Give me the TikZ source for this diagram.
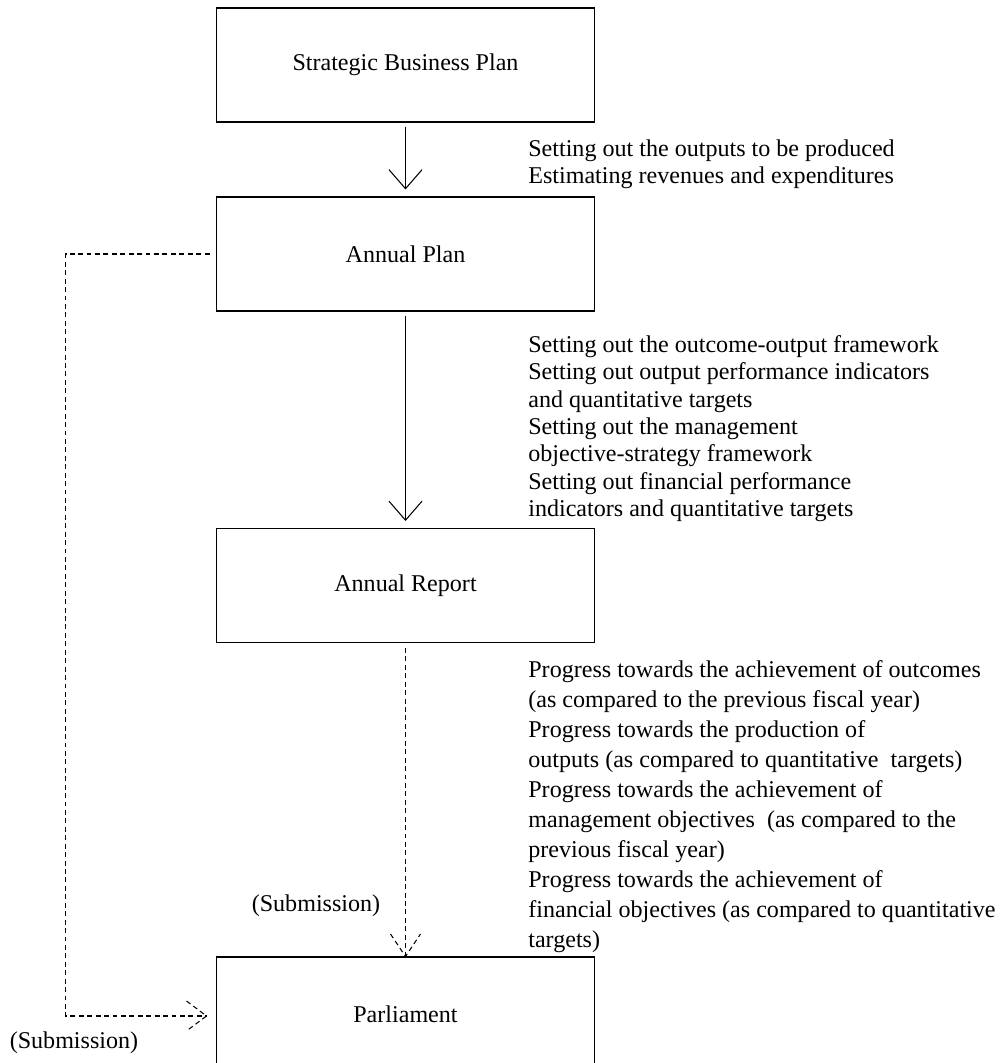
\documentclass[tikz,border=0pt]{standalone}
\usepackage{fontspec}
\setmainfont{Liberation Serif}
\usepackage{tikz}
\usetikzlibrary{arrows.meta}

\tikzset{
  planbox/.style = {rectangle,
      draw = black,
      line width = 0.6pt,
      minimum width = 7.58cm,
      minimum height = 2.28cm,
      font = \fontsize{13.7}{16}\selectfont},
  notes/.style = {align = left,
      anchor = north west,
      inner sep = 0pt,
      font = \fontsize{13.7}{15.6}\selectfont},
  flow/.style = {-{Straight Barb[length=3.8mm,width=6.6mm]},
      line width = 0.6pt,
      shorten < = 0.08cm,
      shorten > = 0.14cm},
  subm/.style = {dashed,
      dash pattern = on 2.8pt off 2pt,
      line width = 0.6pt}
}

\begin{document}
\begin{tikzpicture}[x=0.02cm, y=-0.02cm]
  \useasboundingbox (0,0) rectangle (1000,1063);

  % the four boxes
  \node[planbox] (sbp) at (405.5,65) {Strategic Business Plan};
  \node[planbox] (plan) at (405.5,254) {Annual Plan};
  \node[planbox] (report) at (405.5,585.5) {Annual Report};
  \node[planbox] (parl) at (405.5,1014) {Parliament};

  % what each step sets out
  \node[notes] (outputnote) at (528,139) {Setting out the outputs to be produced\\
    Estimating revenues and expenditures};
  \node[notes] (plannote) at (528,335) {Setting out the outcome-output framework\\
    Setting out output performance indicators\\
    and quantitative targets\\
    Setting out the management\\
    objective-strategy framework\\
    Setting out financial performance\\
    indicators and quantitative targets};
  \node[notes, font = \fontsize{13.7}{17.07}\selectfont] (reportnote) at (528,660)
    {Progress towards the achievement of outcomes\\
    (as compared to the previous fiscal year)\\
    Progress towards the production of\\
    outputs (as compared to quantitative\ \ targets)\\
    Progress towards the achievement of\\
    management objectives\ \ (as compared to the\\
    previous fiscal year)\\
    Progress towards the achievement of\\
    financial objectives (as compared to quantitative\\
    targets)};

  % submission labels
  \node[font = \fontsize{13.7}{16}\selectfont] (submreport) at (316,906) {(Submission)};
  \node[font = \fontsize{13.7}{16}\selectfont] (submplan) at (74,1043) {(Submission)};

  % solid arrows
  \draw[flow] (sbp) -- (plan);
  \draw[flow] (plan) -- (report);

  % dashed submission to parliament
  \draw[subm] ([yshift=-0.1cm]report.south) -- (parl.north);
  \draw[subm] ([xshift=-0.3cm,yshift=0.45cm]parl.north) -- (parl.north)
    -- ++(0.3cm,0.45cm);
  \draw[subm] ([xshift=-0.12cm]plan.west) -- ++(-2.88cm,0)
    |- ([xshift=-0.18cm,yshift=-0.04cm]parl.west);
  \draw[subm] ([xshift=-0.58cm,yshift=0.26cm]parl.west) -- ([xshift=-0.18cm,yshift=-0.04cm]parl.west)
    -- ++(-0.4cm,-0.3cm);
\end{tikzpicture}
\end{document}
